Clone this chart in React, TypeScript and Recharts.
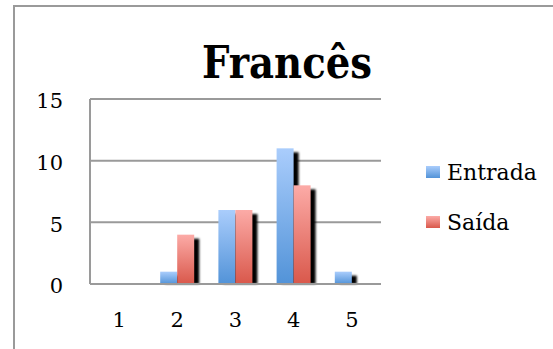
import React from 'react';
import { BarChart, Bar, XAxis, YAxis, CartesianGrid } from 'recharts';

const categories = ['1', '2', '3', '4', '5'];
const entrada = [0, 1, 6, 11, 1];
const saida = [0, 4, 6, 8, 0];
const yTicks = [0, 5, 10, 15];

const data = categories.map((name, i) => ({ name, entrada: entrada[i], saida: saida[i] }));

const FONT = '"DejaVu Serif", serif';
const GRID = '#9a9a9a';

const series = [
    { key: 'entrada', label: 'Entrada', top: '#aacdfc', bottom: '#5293d8' },
    { key: 'saida', label: 'Saída', top: '#fcaba7', bottom: '#d9584b' },
];

function shadowBar(fillId: string) {
    return (props: any) => {
        const { x, y, width, height } = props;
        if (!height || height <= 0) return <g />;
        return (
            <g>
                <rect x={x + 5} y={y + 4} width={width} height={Math.max(height - 4, 0)} fill="#000" filter="url(#barShadow)" />
                <rect x={x} y={y} width={width} height={height} fill={`url(#${fillId})`} />
            </g>
        );
    };
}

// legend sits to the right of the plot, like the original
function LegendBox() {
    return (
        <div style={{ position: 'absolute', left: 426, top: 160, width: 127, fontFamily: FONT, fontSize: 22, color: '#000' }}>
            {series.map((s) => (
                <div key={s.key} style={{ position: 'relative', height: 50, lineHeight: '26px' }}>
                    <div style={{ position: 'absolute', left: 0, top: 6, width: 14, height: 12, background: `linear-gradient(${s.top}, ${s.bottom})` }} />
                    <div style={{ position: 'absolute', left: 21, top: 0, whiteSpace: 'nowrap' }}>{s.label}</div>
                </div>
            ))}
        </div>
    );
}

export default function App() {
    return (
        <div style={{ position: 'absolute', left: 0, top: 0, width: 553, height: 349, overflow: 'hidden', background: '#fff' }}>
            <div style={{ position: 'absolute', left: 13, top: 5, width: 600, height: 400, borderLeft: `2px solid ${GRID}`, borderTop: `2px solid ${GRID}` }} />
            <BarChart width={553} height={349} data={data} margin={{ top: 99, right: 172, bottom: 25, left: 0 }} barSize={17} barGap={0}>
                <defs>
                    {series.map((s) => (
                        <linearGradient key={s.key} id={`grad-${s.key}`} x1="0" y1="0" x2="0" y2="1">
                            <stop offset="0%" stopColor={s.top} />
                            <stop offset="100%" stopColor={s.bottom} />
                        </linearGradient>
                    ))}
                    <filter id="barShadow" x="-50%" y="-50%" width="200%" height="200%">
                        <feGaussianBlur stdDeviation="1" />
                    </filter>
                </defs>
                <CartesianGrid vertical={false} stroke={GRID} strokeWidth={2} />
                <XAxis
                    dataKey="name"
                    height={40}
                    stroke={GRID}
                    strokeWidth={2}
                    tickLine={false}
                    tickSize={0}
                    tickMargin={28}
                    tick={{ fill: '#000', fontSize: 21, fontFamily: FONT }}
                />
                <YAxis
                    width={90}
                    domain={[0, 15]}
                    ticks={yTicks}
                    stroke={GRID}
                    strokeWidth={2}
                    tickLine={false}
                    tickSize={0}
                    tickMargin={27}
                    tick={{ fill: '#000', fontSize: 21, fontFamily: FONT, dy: 2 }}
                />
                {series.map((s) => (
                    <Bar key={s.key} dataKey={s.key} name={s.label} shape={shadowBar(`grad-${s.key}`)} isAnimationActive={false} />
                ))}
            </BarChart>
            <LegendBox />
            <svg width={553} height={120} style={{ position: 'absolute', left: 0, top: 0 }}>
                <text x={287} y={78} textAnchor="middle" fontFamily={FONT} fontSize={45} fontWeight="bold" fontStretch="condensed" textLength={170} lengthAdjust="spacingAndGlyphs">
                    Francês
                </text>
            </svg>
        </div>
    );
}
